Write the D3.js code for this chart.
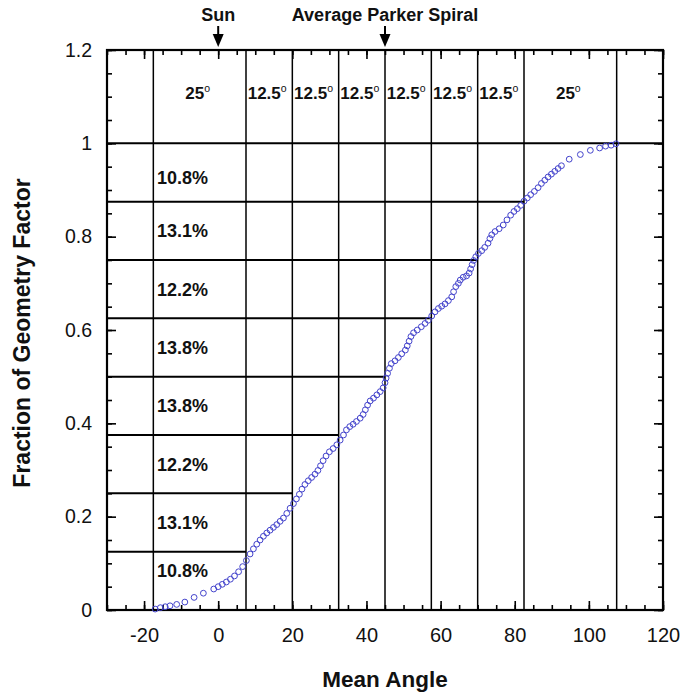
<!DOCTYPE html>
<html>
<head>
<meta charset="utf-8">
<script src="https://cdn.jsdelivr.net/npm/d3@7"></script>
<style>
  html, body { margin: 0; padding: 0; background: #ffffff; }
  svg { display: block; }
  text { font-family: "Liberation Sans", Arial, Helvetica, sans-serif; }
</style>
</head>
<body>
<svg id="chart" width="685" height="693"></svg>
<script>
// ---------- data ----------
const meanAngle = [-17.0,-15.6,-14.3,-13.0,-11.2,-9.0,-6.5,-4.0,-1.2,0.0,1.1,2.2,3.3,4.4,5.5,6.6,7.6,8.6,9.5,10.4,11.3,12.2,13.1,14.0,14.9,15.8,16.7,17.6,18.5,19.4,20.3,21.1,21.9,22.6,23.4,24.3,25.2,26.1,26.9,27.6,28.3,29.1,30.0,31.0,32.0,32.9,33.8,34.6,35.5,36.4,37.3,38.3,39.1,39.7,40.3,41.0,41.9,42.8,43.7,44.5,45.0,45.3,45.7,46.2,46.7,47.7,48.6,49.5,50.5,51.0,51.5,52.0,52.7,53.7,54.8,55.8,56.7,57.6,58.5,59.4,60.3,61.2,62.1,63.0,63.5,64.1,64.8,65.3,66.1,67.0,67.7,68.1,68.5,68.9,69.5,70.2,71.1,71.9,72.8,73.3,73.8,74.7,75.8,76.9,77.9,78.9,79.8,80.7,81.6,82.5,83.4,84.3,85.3,86.3,87.2,88.1,89.0,89.9,90.8,91.7,92.6,94.7,97.7,100.4,102.9,104.5,106.0,107.3];
const geomFraction = [0.002,0.005,0.007,0.009,0.012,0.017,0.027,0.036,0.045,0.050,0.055,0.060,0.066,0.073,0.082,0.093,0.106,0.120,0.131,0.141,0.150,0.158,0.165,0.171,0.177,0.183,0.190,0.197,0.207,0.218,0.228,0.238,0.248,0.259,0.269,0.277,0.284,0.291,0.299,0.309,0.320,0.330,0.339,0.346,0.354,0.364,0.375,0.386,0.393,0.398,0.404,0.411,0.419,0.429,0.439,0.448,0.454,0.461,0.468,0.476,0.487,0.497,0.507,0.518,0.528,0.534,0.541,0.549,0.557,0.566,0.576,0.586,0.594,0.600,0.607,0.614,0.621,0.630,0.639,0.646,0.651,0.656,0.663,0.671,0.682,0.693,0.700,0.707,0.713,0.716,0.722,0.731,0.740,0.749,0.757,0.764,0.770,0.777,0.786,0.796,0.804,0.811,0.817,0.825,0.836,0.846,0.854,0.860,0.867,0.876,0.883,0.890,0.897,0.905,0.914,0.921,0.928,0.934,0.940,0.946,0.952,0.966,0.976,0.985,0.990,0.994,0.996,0.999];

// angle bin boundaries (vertical lines) and their widths
const binEdges = [-17.5, 7.5, 20, 32.5, 45, 57.5, 70, 82.5, 107.5];
const binWidthLabels = ["25", "12.5", "12.5", "12.5", "12.5", "12.5", "12.5", "25"];
// fraction levels (horizontal lines), one per bin edge after the first
const fractionLevels = [0.125, 0.25, 0.375, 0.5, 0.625, 0.75, 0.875, 1.0];
// percentages per fraction band, bottom to top
const bandPercents = ["10.8%", "13.1%", "12.2%", "13.8%", "13.8%", "12.2%", "13.1%", "10.8%"];
const bandLabelY = [0.084, 0.1875, 0.3125, 0.4375, 0.5625, 0.6875, 0.8125, 0.926];

const xTickLabels = [-20, 0, 20, 40, 60, 80, 100, 120];
const yTickLabels = [0, 0.2, 0.4, 0.6, 0.8, 1, 1.2];
const markers = [{label: "Sun", angle: 0}, {label: "Average Parker Spiral", angle: 45}];

// ---------- layout ----------
const svg = d3.select("#chart");
const x = d3.scaleLinear().domain([-30, 120]).range([107, 663]);
const y = d3.scaleLinear().domain([0, 1.2]).range([610, 50]);

const xMinor = d3.range(-30, 121, 5);
const yMinor = d3.range(0, 1.2001, 0.05).map(v => +v.toFixed(2));

function styleAxis(g, fs) {
  g.select(".domain").remove();
  g.selectAll(".tick line").attr("stroke", "#000").attr("stroke-width", 1.6);
  g.selectAll(".tick text").attr("fill", "#111").style("font-size", fs + "px")
    .style("font-family", "'Liberation Sans', Arial, sans-serif");
}

// minor ticks
svg.append("g").attr("transform", `translate(0,${y(0)})`)
  .call(d3.axisBottom(x).tickValues(xMinor).tickSize(-5).tickFormat(""))
  .call(g => styleAxis(g, 0));
svg.append("g").attr("transform", `translate(0,${y(1.2)})`)
  .call(d3.axisTop(x).tickValues(xMinor).tickSize(-5).tickFormat(""))
  .call(g => styleAxis(g, 0));
svg.append("g").attr("transform", `translate(${x(-30)},0)`)
  .call(d3.axisLeft(y).tickValues(yMinor).tickSize(-5).tickFormat(""))
  .call(g => styleAxis(g, 0));
svg.append("g").attr("transform", `translate(${x(120)},0)`)
  .call(d3.axisRight(y).tickValues(yMinor).tickSize(-5).tickFormat(""))
  .call(g => styleAxis(g, 0));

// major ticks with labels
svg.append("g").attr("transform", `translate(0,${y(0)})`)
  .call(d3.axisBottom(x).tickValues(xTickLabels).tickSize(-9).tickPadding(18).tickFormat(d => String(d)))
  .call(g => styleAxis(g, 20));
svg.append("g").attr("transform", `translate(0,${y(1.2)})`)
  .call(d3.axisTop(x).tickValues(xTickLabels).tickSize(-9).tickFormat(""))
  .call(g => styleAxis(g, 0));
svg.append("g").attr("transform", `translate(${x(-30)},0)`)
  .call(d3.axisLeft(y).tickValues(yTickLabels).tickSize(-9).tickPadding(15).tickFormat(d => d === 0 || d === 1 ? String(d) : d.toFixed(1)))
  .call(g => styleAxis(g, 19.5));
svg.append("g").attr("transform", `translate(${x(120)},0)`)
  .call(d3.axisRight(y).tickValues(yTickLabels).tickSize(-9).tickFormat(""))
  .call(g => styleAxis(g, 0));

// vertical bin lines
svg.append("g").selectAll("line").data(binEdges).join("line")
  .attr("x1", d => x(d)).attr("x2", d => x(d))
  .attr("y1", y(0)).attr("y2", y(1.2))
  .attr("stroke", "#000").attr("stroke-width", 1.5);

// horizontal fraction lines
svg.append("g").selectAll("line").data(fractionLevels).join("line")
  .attr("x1", x(-30))
  .attr("x2", (d, i) => d === 1 ? x(120) : x(binEdges[i + 1]))
  .attr("y1", d => y(d)).attr("y2", d => y(d))
  .attr("stroke", "#000").attr("stroke-width", 2);

// frame
svg.append("rect")
  .attr("x", x(-30)).attr("y", y(1.2))
  .attr("width", x(120) - x(-30)).attr("height", y(0) - y(1.2))
  .attr("fill", "none").attr("stroke", "#000").attr("stroke-width", 2.2);

// bin width labels
const wl = svg.append("g").selectAll("text").data(binWidthLabels).join("text")
  .attr("x", (d, i) => (x(binEdges[i]) + x(binEdges[i + 1])) / 2 - 2)
  .attr("y", y(1.095))
  .attr("text-anchor", "middle")
  .style("font-size", "17px").style("font-weight", "bold").attr("fill", "#111");
wl.append("tspan").text(d => d);
wl.append("tspan").text("o").attr("dy", -7).style("font-size", "10.5px").style("font-weight", "normal");

// band percentage labels
svg.append("g").selectAll("text").data(bandPercents).join("text")
  .attr("x", x(-16.5))
  .attr("y", (d, i) => y(bandLabelY[i]))
  .attr("dy", "0.36em")
  .style("font-size", "18px").style("font-weight", "bold").attr("fill", "#111")
  .text(d => d);

// data points
svg.append("g").selectAll("circle").data(meanAngle).join("circle")
  .attr("cx", d => x(d))
  .attr("cy", (d, i) => y(geomFraction[i]))
  .attr("r", 2.9)
  .attr("fill", "none")
  .attr("stroke", "#4444cc")
  .attr("stroke-width", 1);

// top markers (Sun, Parker spiral)
const mk = svg.append("g").selectAll("g").data(markers).join("g")
  .attr("transform", d => `translate(${x(d.angle)},0)`);
mk.append("text").attr("y", 21).attr("text-anchor", "middle")
  .style("font-size", "18px").style("font-weight", "bold").attr("fill", "#111")
  .text(d => d.label);
mk.append("line").attr("x1", 0).attr("x2", 0).attr("y1", 26).attr("y2", 38)
  .attr("stroke", "#000").attr("stroke-width", 2);
mk.append("path").attr("d", "M-5.5,34 L5.5,34 L0,47 Z").attr("fill", "#000");

// axis titles
svg.append("text")
  .attr("x", 385).attr("y", 687)
  .attr("text-anchor", "middle")
  .style("font-size", "22.5px").style("font-weight", "bold").attr("fill", "#111")
  .text("Mean Angle");
svg.append("text")
  .attr("transform", "translate(30,333) rotate(-90)")
  .attr("text-anchor", "middle")
  .style("font-size", "23px").style("font-weight", "bold").attr("fill", "#111")
  .text("Fraction of Geometry Factor");
</script>
</body>
</html>
